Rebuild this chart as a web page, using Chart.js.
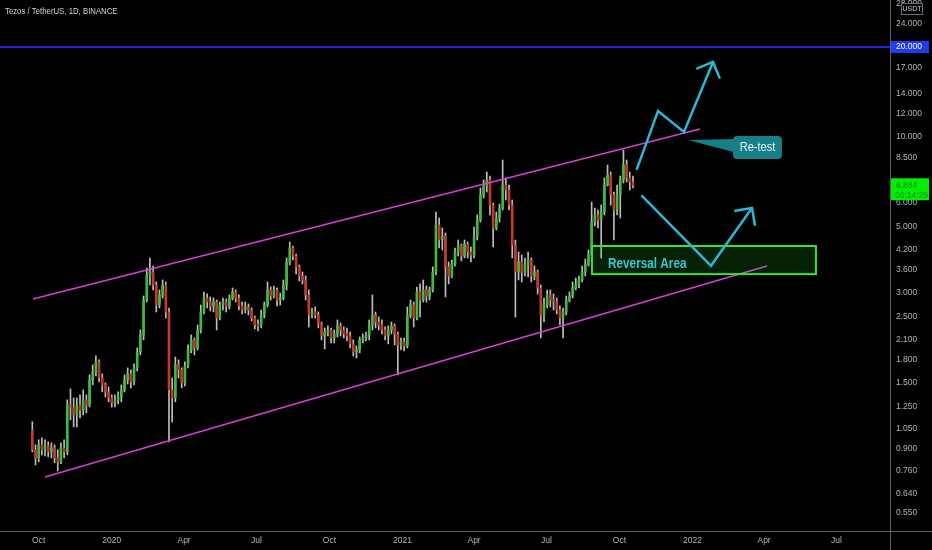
<!DOCTYPE html>
<html lang="en">
<head>
  <meta charset="UTF-8" />
  <title>Tezos / TetherUS, 1D, BINANCE</title>
  <script src="https://cdn.jsdelivr.net/npm/chart.js@4"></script>
  <style>
    html, body { margin: 0; padding: 0; background: #000; }
    #wrap { width: 932px; height: 550px; position: relative; }
  </style>
</head>
<body>
<div id="wrap"><canvas id="chart"></canvas></div>
<script>
const firstBar = '2019-09-23';
const barDays = 4;

const open = [
  1.044, 0.895, 0.841, 0.930, 0.895, 0.923, 0.881, 0.909, 0.841, 0.816,
  0.909, 0.881, 1.266, 1.246, 1.172, 1.266, 1.218, 1.316, 1.266, 1.535,
  1.632, 1.763, 1.558, 1.477, 1.399, 1.336, 1.286, 1.316, 1.346, 1.421,
  1.535, 1.608, 1.511, 1.684, 1.904, 2.171, 2.843, 3.448, 3.528, 3.192,
  2.736, 2.955, 3.192, 2.592, 1.421, 1.336, 1.723, 1.658, 1.500, 1.710,
  1.934, 2.089, 1.964, 2.256, 2.592, 2.887, 2.799, 2.715, 2.799, 2.475,
  2.736, 2.799, 2.715, 2.887, 3.024, 2.887, 2.715, 2.632, 2.694, 2.632,
  2.475, 2.345, 2.327, 2.533, 2.736, 3.071, 2.932, 3.071, 2.843, 2.887,
  3.192, 3.810, 4.245, 3.991, 3.667, 3.421, 3.317, 2.955, 2.533, 2.592,
  2.533, 2.363, 2.154, 2.221, 2.256, 2.121, 2.188, 2.327, 2.256, 2.188,
  2.154, 2.026, 1.904, 1.934, 2.089, 2.121, 2.154, 2.345, 2.533, 2.399,
  2.345, 2.256, 2.154, 2.256, 2.327, 2.188, 2.010, 2.057, 1.995, 2.533,
  2.736, 2.475, 3.024, 2.843, 3.071, 2.932, 3.071, 3.528, 5.068, 4.515,
  4.656, 3.667, 3.421, 3.753, 4.116, 4.311, 3.991, 4.378, 4.116, 4.022,
  4.656, 5.268, 6.387, 6.846, 7.170, 5.913, 4.953, 5.350, 5.779, 6.899,
  6.638, 5.913, 4.344, 3.528, 3.810, 3.528, 3.724, 3.870, 3.421, 3.528,
  3.119, 2.533, 2.736, 2.955, 2.843, 2.799, 2.632, 2.475, 2.592, 2.843,
  2.932, 3.119, 3.217, 3.317, 3.528, 3.753, 4.022, 5.187, 5.475, 5.268,
  5.602, 6.899, 7.452, 6.387, 5.690, 6.387, 7.170, 8.049, 7.282, 7.060
];
const high = [
  1.111, 0.930, 0.967, 0.982, 0.967, 0.952, 0.945, 0.930, 0.895, 0.945,
  0.967, 1.316, 1.432, 1.336, 1.336, 1.367, 1.421, 1.367, 1.595, 1.723,
  1.847, 1.791, 1.608, 1.500, 1.454, 1.367, 1.367, 1.399, 1.477, 1.595,
  1.684, 1.658, 1.737, 1.964, 2.256, 2.932, 3.639, 3.930, 3.695, 3.266,
  3.071, 3.317, 3.266, 2.673, 1.558, 1.832, 1.791, 1.684, 1.763, 2.010,
  2.171, 2.121, 2.345, 2.736, 3.024, 2.978, 2.909, 2.887, 2.843, 2.799,
  2.887, 2.865, 2.955, 3.119, 3.071, 2.955, 2.799, 2.799, 2.757, 2.673,
  2.514, 2.437, 2.632, 2.799, 3.266, 3.143, 3.167, 3.119, 3.001, 3.317,
  3.930, 4.446, 4.311, 4.053, 3.724, 3.528, 3.421, 3.071, 2.673, 2.694,
  2.592, 2.399, 2.291, 2.327, 2.291, 2.256, 2.437, 2.382, 2.309, 2.291,
  2.221, 2.089, 1.995, 2.138, 2.188, 2.221, 2.437, 2.955, 2.592, 2.494,
  2.437, 2.309, 2.327, 2.399, 2.363, 2.221, 2.121, 2.121, 2.694, 2.843,
  2.799, 3.143, 3.217, 3.317, 3.167, 3.143, 3.667, 5.602, 5.350, 4.953,
  4.765, 3.810, 3.870, 4.245, 4.515, 4.378, 4.515, 4.446, 4.277, 4.990,
  5.475, 6.741, 7.170, 7.626, 7.395, 6.005, 5.602, 5.959, 8.365, 7.282,
  6.899, 6.146, 4.515, 4.116, 4.022, 3.930, 4.116, 3.930, 3.695, 3.583,
  3.192, 2.887, 3.071, 3.071, 2.978, 2.887, 2.715, 2.673, 2.932, 3.024,
  3.266, 3.369, 3.421, 3.695, 3.900, 4.180, 6.051, 5.779, 5.690, 5.913,
  7.282, 8.049, 7.626, 6.536, 6.899, 7.395, 9.036, 8.365, 7.626, 7.395
];
const low = [
  0.881, 0.797, 0.816, 0.861, 0.854, 0.848, 0.841, 0.810, 0.761, 0.804,
  0.841, 0.861, 1.128, 1.068, 1.068, 1.145, 1.172, 1.190, 1.246, 1.477,
  1.583, 1.511, 1.399, 1.346, 1.296, 1.246, 1.247, 1.276, 1.296, 1.399,
  1.488, 1.443, 1.477, 1.645, 1.861, 2.089, 2.799, 3.192, 3.071, 2.592,
  2.673, 2.887, 2.475, 0.952, 1.111, 1.296, 1.558, 1.443, 1.466, 1.684,
  1.890, 1.861, 1.934, 2.204, 2.552, 2.673, 2.612, 2.592, 2.256, 2.437,
  2.632, 2.592, 2.653, 2.843, 2.799, 2.632, 2.552, 2.572, 2.533, 2.418,
  2.274, 2.239, 2.291, 2.475, 2.694, 2.843, 2.887, 2.715, 2.736, 2.843,
  3.071, 3.724, 3.870, 3.475, 3.291, 3.217, 2.843, 2.309, 2.475, 2.475,
  2.291, 2.089, 1.949, 2.154, 2.041, 2.041, 2.138, 2.154, 2.121, 2.073,
  1.964, 1.847, 1.818, 1.890, 2.041, 2.073, 2.089, 2.256, 2.291, 2.256,
  2.188, 2.089, 2.026, 2.188, 2.010, 1.595, 1.934, 1.919, 1.964, 2.475,
  2.309, 2.437, 2.494, 2.799, 2.799, 2.843, 3.024, 3.448, 4.245, 4.180,
  2.909, 3.217, 3.369, 3.695, 3.991, 3.840, 3.930, 3.930, 3.810, 3.930,
  4.515, 5.187, 6.241, 6.536, 5.475, 4.277, 4.877, 5.187, 5.690, 6.146,
  5.690, 3.930, 2.494, 3.317, 3.266, 3.421, 3.395, 3.266, 3.317, 2.978,
  2.121, 2.399, 2.673, 2.694, 2.632, 2.552, 2.345, 2.121, 2.533, 2.799,
  2.887, 3.071, 3.119, 3.266, 3.421, 3.695, 3.930, 5.029, 4.953, 3.930,
  5.475, 6.846, 5.913, 4.515, 5.475, 5.350, 7.007, 7.060, 6.638, 6.741
];
const close = [
  0.895, 0.841, 0.930, 0.895, 0.923, 0.881, 0.909, 0.841, 0.816, 0.909,
  0.881, 1.266, 1.246, 1.172, 1.266, 1.218, 1.316, 1.266, 1.535, 1.632,
  1.763, 1.558, 1.477, 1.399, 1.336, 1.286, 1.316, 1.346, 1.421, 1.535,
  1.608, 1.511, 1.684, 1.904, 2.171, 2.843, 3.448, 3.528, 3.192, 2.736,
  2.955, 3.192, 2.592, 1.421, 1.336, 1.723, 1.658, 1.500, 1.710, 1.934,
  2.089, 1.964, 2.256, 2.592, 2.887, 2.799, 2.715, 2.799, 2.475, 2.736,
  2.799, 2.715, 2.887, 3.024, 2.887, 2.715, 2.632, 2.694, 2.632, 2.475,
  2.345, 2.327, 2.533, 2.736, 3.071, 2.932, 3.071, 2.843, 2.887, 3.192,
  3.810, 4.245, 3.991, 3.667, 3.421, 3.317, 2.955, 2.533, 2.592, 2.533,
  2.363, 2.154, 2.221, 2.256, 2.121, 2.188, 2.327, 2.256, 2.188, 2.154,
  2.026, 1.904, 1.934, 2.089, 2.121, 2.154, 2.345, 2.533, 2.399, 2.345,
  2.256, 2.154, 2.256, 2.327, 2.188, 2.010, 2.057, 1.995, 2.533, 2.736,
  2.475, 3.024, 2.843, 3.071, 2.932, 3.071, 3.528, 5.068, 4.515, 4.656,
  3.667, 3.421, 3.753, 4.116, 4.311, 3.991, 4.378, 4.116, 4.022, 4.656,
  5.268, 6.387, 6.846, 7.170, 5.913, 4.953, 5.350, 5.779, 6.899, 6.638,
  5.913, 4.344, 3.528, 3.810, 3.528, 3.724, 3.870, 3.421, 3.528, 3.119,
  2.533, 2.736, 2.955, 2.843, 2.799, 2.632, 2.475, 2.592, 2.843, 2.932,
  3.119, 3.217, 3.317, 3.528, 3.753, 4.022, 5.187, 5.475, 5.268, 5.602,
  6.899, 7.452, 6.387, 5.690, 6.387, 7.170, 8.049, 7.282, 7.060, 6.884
];

const priceTicks = [0.55, 0.64, 0.76, 0.9, 1.05, 1.25, 1.5, 1.8, 2.1, 2.5, 3, 3.6,
                    4.2, 5, 6, 8.5, 10, 12, 14, 17, 20, 24, 28];
const monthTicks = ['2019-10-01', '2020-01-01', '2020-04-01', '2020-07-01', '2020-10-01', '2021-01-01',
                    '2021-04-01', '2021-07-01', '2021-10-01', '2022-01-01', '2022-04-01', '2022-07-01'];
const monthLabels = ['Oct', '2020', 'Apr', 'Jul', 'Oct', '2021', 'Apr', 'Jul', 'Oct', '2022', 'Apr', 'Jul'];

const lastPrice = 6.884;
const countdown = '06:14:29';
const targetLevel = 20;

// drawings: [days after 2020-01-01, price]
const upperChannel = [[-99.2, 2.864], [740.3, 10.63]];
const lowerChannel = [[-84.1, 0.726], [824.7, 3.696]];
const bullPath = [[661.0, 7.81], [687.5, 12.21], [720.2, 10.38], [756.7, 17.82]];
const bearPath = [[667.3, 6.34], [754.2, 3.70], [805.8, 5.78]];
const reversalZone = { from: 604.4, to: 886.3, top: 4.31, bottom: 3.47, label: 'Reversal Area', labelAt: [624.6, 3.76] };
const retest = { from: 781.9, to: 843.5, top: 10.07, bottom: 8.43, tip: [725.2, 9.76], label: 'Re-test' };

const viewFrom = -140.7, viewTo = 979.5;   // visible days
const priceMin = 0.4787, priceMax = 28.73;

const FONT = '"Liberation Sans", Arial, sans-serif';
const UP = '#3fba3f', DOWN = '#c23a2a', WICK = '#bdbdbd';

const dayOf = s => (Date.parse(s) - Date.parse('2020-01-01')) / 864e5;
const t0 = dayOf(firstBar);
const barX = open.map((_, i) => t0 + i * barDays);

const wicks = open.map((_, i) => ({ x: barX[i], y: [low[i], high[i]] }));
const bodies = open.map((o, i) => ({ x: barX[i], y: [Math.min(o, close[i]), Math.max(o, close[i])] }));
const bodyColors = open.map((o, i) => close[i] >= o ? UP : DOWN);

function arrowHead(ctx, a, b, len) {
  const ang = Math.atan2(a[1] - b[1], a[0] - b[0]);
  [Math.PI / 4, -Math.PI / 4].forEach(d => {
    ctx.beginPath();
    ctx.moveTo(b[0], b[1]);
    ctx.lineTo(b[0] + len * Math.cos(ang + d), b[1] + len * Math.sin(ang + d));
    ctx.stroke();
  });
}

// narrow-looking text: squeeze horizontally
function narrowText(ctx, text, x, y, sx) {
  ctx.save();
  ctx.translate(x, y);
  ctx.scale(sx, 1);
  ctx.fillText(text, 0, 0);
  ctx.restore();
}

const overlay = {
  id: 'overlay',
  afterDatasetsDraw(chart) {
    const { ctx, chartArea: a, scales: { x, y } } = chart;
    const P = p => [x.getPixelForValue(p[0]), y.getPixelForValue(p[1])];
    ctx.save();
    ctx.beginPath();
    ctx.rect(a.left, a.top, a.right - a.left, a.bottom - a.top);
    ctx.clip();

    // channel
    ctx.strokeStyle = '#d83ed8';
    ctx.lineWidth = 1.5;
    [upperChannel, lowerChannel].forEach(line => {
      const p = line.map(P);
      ctx.beginPath();
      ctx.moveTo(p[0][0], p[0][1]);
      ctx.lineTo(p[1][0], p[1][1]);
      ctx.stroke();
    });

    // reversal zone
    const z0 = P([reversalZone.from, reversalZone.top]), z1 = P([reversalZone.to, reversalZone.bottom]);
    ctx.fillStyle = 'rgba(40, 200, 40, 0.16)';
    ctx.fillRect(z0[0], z0[1], z1[0] - z0[0], z1[1] - z0[1]);
    ctx.strokeStyle = '#33e633';
    ctx.lineWidth = 2;
    ctx.strokeRect(z0[0], z0[1], z1[0] - z0[0], z1[1] - z0[1]);
    const zl = P(reversalZone.labelAt);
    ctx.fillStyle = '#2ccbd6';
    ctx.font = 'bold 14px ' + FONT;
    ctx.textBaseline = 'middle';
    narrowText(ctx, reversalZone.label, zl[0], zl[1], 0.84);

    // projected paths
    ctx.strokeStyle = '#2ab8d6';
    ctx.lineWidth = 2.5;
    ctx.lineJoin = 'miter';
    ctx.lineCap = 'round';
    [bullPath, bearPath].forEach(path => {
      const p = path.map(P);
      ctx.beginPath();
      p.forEach((q, i) => i ? ctx.lineTo(q[0], q[1]) : ctx.moveTo(q[0], q[1]));
      ctx.stroke();
      arrowHead(ctx, p[p.length - 2], p[p.length - 1], 17);
    });

    // re-test callout
    const r0 = P([retest.from, retest.top]), r1 = P([retest.to, retest.bottom]), tip = P(retest.tip);
    ctx.fillStyle = '#167f88';
    ctx.beginPath();
    ctx.moveTo(tip[0], tip[1]);
    ctx.lineTo(r0[0] + 4, r0[1] + 3);
    ctx.lineTo(r0[0] + 4, r0[1] + 17);
    ctx.closePath();
    ctx.fill();
    ctx.beginPath();
    ctx.roundRect(r0[0], r0[1], r1[0] - r0[0], r1[1] - r0[1], 4);
    ctx.fill();
    ctx.fillStyle = '#e8f6f6';
    ctx.font = '12px ' + FONT;
    ctx.textAlign = 'center';
    narrowText(ctx, retest.label, (r0[0] + r1[0]) / 2, (r0[1] + r1[1]) / 2 + 0.5, 0.92);

    // target level
    const ty = y.getPixelForValue(targetLevel);
    ctx.strokeStyle = '#1f26e6';
    ctx.lineWidth = 2;
    ctx.beginPath();
    ctx.moveTo(a.left, ty);
    ctx.lineTo(a.right, ty);
    ctx.stroke();
    ctx.restore();
  },
  afterDraw(chart) {
    const { ctx, chartArea: a, scales: { y } } = chart;
    const W = chart.width, H = chart.height;
    ctx.save();
    // axis corner lines
    ctx.strokeStyle = '#5d606b';
    ctx.lineWidth = 1;
    ctx.beginPath();
    ctx.moveTo(a.right, a.bottom + 0.5); ctx.lineTo(W, a.bottom + 0.5);
    ctx.moveTo(a.right + 0.5, a.bottom); ctx.lineTo(a.right + 0.5, H);
    ctx.stroke();

    ctx.textBaseline = 'middle';
    ctx.textAlign = 'left';
    // title
    ctx.fillStyle = '#d1d4dc';
    ctx.font = '9.5px ' + FONT;
    narrowText(ctx, 'Tezos / TetherUS, 1D, BINANCE', 5, 11, 0.82);

    // target label
    ctx.font = '8.5px ' + FONT;
    const ty = y.getPixelForValue(targetLevel);
    ctx.fillStyle = '#1f3cf0';
    ctx.fillRect(a.right + 1, ty - 6, 38, 12);
    ctx.fillStyle = '#ffffff';
    ctx.fillText(targetLevel.toFixed(3), a.right + 6, ty);

    // last price label
    const py = y.getPixelForValue(lastPrice);
    ctx.fillStyle = '#00f000';
    ctx.fillRect(a.right + 1, py - 7, 38, 22);
    ctx.fillStyle = '#118a11';
    ctx.fillText(lastPrice.toFixed(3), a.right + 6, py);
    ctx.fillText(countdown, a.right + 5, py + 10);

    // currency box
    ctx.fillStyle = '#000';
    ctx.fillRect(a.right + 11, 3, 22, 12);
    ctx.strokeStyle = '#6a6d78';
    ctx.strokeRect(a.right + 11.5, 3.5, 21, 11);
    ctx.fillStyle = '#c8cad0';
    ctx.font = '7px ' + FONT;
    ctx.textAlign = 'center';
    ctx.fillText('USDT', a.right + 22, 9.5);
    ctx.restore();
  }
};

new Chart(document.getElementById('chart'), {
  type: 'bar',
  data: {
    datasets: [
      { label: 'body', data: bodies, backgroundColor: bodyColors, barThickness: 2, minBarLength: 1, grouped: false, order: 0 },
      { label: 'wick', data: wicks, backgroundColor: WICK, barThickness: 1, grouped: false, order: 1 }
    ]
  },
  options: {
    responsive: true,
    maintainAspectRatio: false,
    animation: false,
    layout: { padding: 0 },
    plugins: { legend: { display: false }, tooltip: { enabled: false }, title: { display: false } },
    scales: {
      x: {
        type: 'linear',
        min: viewFrom,
        max: viewTo,
        offset: false,
        afterBuildTicks: s => { s.ticks = monthTicks.map(m => ({ value: dayOf(m) })); },
        afterFit: s => { s.height = 19; s.paddingLeft = 0; s.paddingRight = 0; },
        grid: { display: false, drawTicks: false },
        border: { display: true, color: '#5d606b' },
        ticks: {
          autoSkip: false, maxRotation: 0, padding: 5,
          color: '#b2b5be', font: { family: FONT, size: 8.5 },
          callback: (v, i) => monthLabels[i]
        }
      },
      y: {
        type: 'logarithmic',
        position: 'right',
        min: priceMin,
        max: priceMax,
        afterBuildTicks: s => { s.ticks = priceTicks.map(v => ({ value: v })); },
        afterFit: s => { s.width = 42; s.paddingTop = 0; s.paddingBottom = 0; },
        grid: { display: false, drawTicks: false },
        border: { display: true, color: '#5d606b' },
        ticks: {
          autoSkip: false, padding: 6,
          color: '#b2b5be', font: { family: FONT, size: 8.5 },
          callback: v => Number(v).toFixed(3)
        }
      }
    }
  },
  plugins: [overlay]
});
</script>
</body>
</html>
